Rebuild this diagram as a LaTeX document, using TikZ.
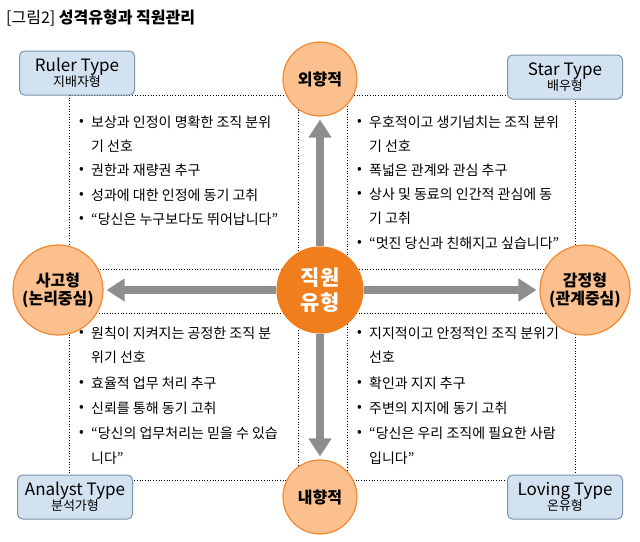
\documentclass[tikz,border=0pt]{standalone}
\usepackage{fontspec}
\setmainfont{Noto Sans CJK KR}
\usetikzlibrary{arrows.meta}
\definecolor{lor}{HTML}{FBC08E}
\definecolor{oline}{HTML}{F08A30}
\definecolor{dor}{HTML}{F07E1C}
\definecolor{bfill}{HTML}{D3E2F0}
\definecolor{bline}{HTML}{7D93AA}
\definecolor{arr}{HTML}{8E8E8E}
\tikzset{
 circ/.style={circle,fill=lor,draw=oline,line width=1.2pt,inner sep=0pt,align=center,font=\fontsize{16}{18}\selectfont\bfseries},
 tbox/.style={rounded corners=5pt,fill=bfill,draw=bline,line width=1pt,minimum width=115pt,minimum height=44pt,align=center,inner sep=0pt},
 quad/.style={draw=black,dotted,line width=0.7pt},
 bl/.style={anchor=west,inner sep=0pt,font=\fontsize{14}{16}\selectfont},
 garr/.style={draw=arr,line width=8pt,-{Triangle[width=22pt,length=18pt]}}
}
\begin{document}
\begin{tikzpicture}[x=1pt,y=-1pt]
\useasboundingbox (0,0) rectangle (640,541);
\node[anchor=west,inner sep=0pt,font=\fontsize{16}{18}\selectfont] (title) at (6,18) {[그림2] \textbf{성격유형과 직원관리}};
\draw[quad] (69,95) rectangle (298,269);
\draw[quad] (347,95) rectangle (575,269);
\draw[quad] (69,313) rectangle (298,480);
\draw[quad] (347,313) rectangle (575,480);
\node[tbox] (ruler) at (77,73) {{\fontsize{17}{19}\selectfont Ruler Type}\\[-1pt]{\fontsize{13}{15}\selectfont 지배자형}};
\node[tbox] (star) at (565,77) {{\fontsize{17}{19}\selectfont Star Type}\\[-1pt]{\fontsize{13}{15}\selectfont 배우형}};
\node[tbox] (analyst) at (75,497) {{\fontsize{17}{19}\selectfont Analyst Type}\\[-1pt]{\fontsize{13}{15}\selectfont 분석가형}};
\node[tbox] (loving) at (565,497) {{\fontsize{17}{19}\selectfont Loving Type}\\[-1pt]{\fontsize{13}{15}\selectfont 온유형}};
\node[circ,minimum size=74pt] (top) at (320,79) {외향적};
\node[circ,minimum size=74pt] (bot) at (320,497) {내향적};
\node[circ,minimum size=90pt] (left) at (58,290) {사고형\\(논리중심)};
\node[circ,minimum size=90pt] (right) at (585,290) {감정형\\(관계중심)};
\node[circ,fill=dor,draw=dor,text=white,minimum size=86pt,font=\fontsize{21}{25}\selectfont\bfseries] (c) at (320,290) {직원\\유형};
\draw[garr] (c.north) -- ([yshift=-3pt]top.south);
\draw[garr] (c.south) -- ([yshift=3pt]bot.north);
\draw[garr] (c.west) -- ([xshift=3pt]left.east);
\draw[garr] (c.east) -- ([xshift=-3pt]right.west);
\foreach \y/\b/\t [count=\i] in {122/•/보상과 인정이 명확한 조직 분위,146//기 선호,170/•/권한과 재량권 추구,195/•/성과에 대한 인정에 동기 고취,219/•/“당신은 누구보다도 뛰어납니다”}{
 \node[bl] (tlb\i) at (79,\y) {\b}; \node[bl] (tl\i) at (91,\y) {\t};}
\foreach \y/\b/\t [count=\i] in {122/•/우호적이고 생기넘치는 조직 분위,146//기 선호,170/•/폭넓은 관계와 관심 추구,194/•/상사 및 동료의 인간적 관심에 동,218//기 고취,243/•/“멋진 당신과 친해지고 싶습니다”}{
 \node[bl] (trb\i) at (357,\y) {\b}; \node[bl] (tr\i) at (369,\y) {\t};}
\foreach \y/\b/\t [count=\i] in {333/•/원칙이 지켜지는 공정한 조직 분,357//위기 선호,383/•/효율적 업무 처리 추구,408/•/신뢰를 통해 동기 고취,433/•/“당신의 업무처리는 믿을 수 있습,458//니다”}{
 \node[bl] (blb\i) at (79,\y) {\b}; \node[bl] (bl\i) at (91,\y) {\t};}
\foreach \y/\b/\t [count=\i] in {333/•/지지적이고 안정적인 조직 분위기,357//선호,383/•/확인과 지지 추구,408/•/주변의 지지에 동기 고취,433/•/“당신은 우리 조직에 필요한 사람,458//입니다”}{
 \node[bl] (brb\i) at (357,\y) {\b}; \node[bl] (br\i) at (369,\y) {\t};}
\end{tikzpicture}
\end{document}
